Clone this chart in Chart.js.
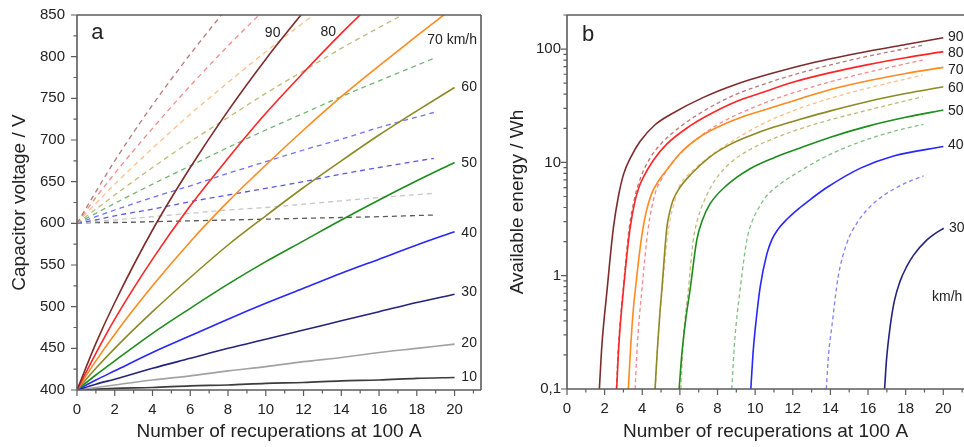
<!DOCTYPE html>
<html>
<head>
<meta charset="utf-8">
<title>Capacitor recuperation</title>
<script src="https://cdn.jsdelivr.net/npm/chart.js@4/dist/chart.umd.min.js"></script>
<style>
  body { margin: 0; background: #fff; }
  #wrap { position: relative; width: 964px; height: 447px; overflow: hidden; }
  canvas { position: absolute; top: 0; }
</style>
</head>
<body>
<div id="wrap">
  <canvas id="chartA" width="482" height="447" style="left:0"></canvas>
  <canvas id="chartB" width="482" height="447" style="left:482px"></canvas>
</div>
<script>
// ---- panel a: capacitor voltage vs. number of recuperations ----
var nSolid = [0, 1, 2, 4, 6, 8, 10, 12, 14, 16, 18, 20]
var nDashed = [0, 1, 2, 4, 6, 8, 10, 12, 14, 16, 18.9]

// charging from 400 V (solid)
var volt90 = [400, 456, 505, 592, 667, 735, 797, 854]
var volt80 = [400, 444, 485, 557, 621, 678, 732, 781, 828, 872]
var volt70 = [400, 435, 467, 525, 578, 626, 670, 712, 752, 789, 825, 860]
var volt60 = [400, 426, 450, 494, 535, 574, 609, 643, 675, 706, 735, 763]
var volt50 = [400, 418, 435, 468, 498, 527, 554, 579, 604, 628, 651, 673]
var volt40 = [400, 412, 423, 445, 465, 485, 504, 522, 540, 557, 574, 590]
var volt30 = [400, 407, 413, 426, 438, 450, 461, 472, 483, 494, 505, 515]
var volt20 = [400, 403, 406, 412, 417, 423, 428, 434, 439, 445, 450, 455]
var volt10 = [400, 401, 402, 403, 405, 406, 408, 409, 411, 412, 414, 415]

// charging from 600 V (dashed)
var voltDash90 = [600, 638, 675, 742, 803, 860]
var voltDash80 = [600, 631, 660, 714, 765, 813, 858]
var voltDash70 = [600, 624, 647, 690, 731, 769, 806, 841, 875]
var voltDash60 = [600, 617, 634, 667, 698, 727, 756, 783, 810, 835, 870]
var voltDash50 = [600, 612, 624, 647, 669, 691, 712, 732, 752, 771, 798]
var voltDash40 = [600, 608, 616, 631, 645, 660, 674, 688, 701, 715, 733]
var voltDash30 = [600, 604, 609, 617, 626, 634, 642, 650, 659, 667, 678]
var voltDash20 = [600, 602, 604, 608, 612, 616, 619, 623, 627, 631, 636]
var voltDash10 = [600, 601, 601, 602, 603, 604, 605, 606, 607, 608, 610]

// ---- panel b: available energy (Wh), [recuperations, energy] ----
var energy90 = [[1.72,0.1],[1.86,0.25],[2.13,0.75],[2.46,2.6],[2.73,5.0],[3.0,7.8],[3.4,11.2],[3.88,15.3],[4.68,21.5],[5.5,26.5],[7.25,37.5],[9,49],[10.8,60.5],[13,75.5],[15.6,93],[18,110],[20,126]]
var energy80 = [[2.64,0.1],[2.76,0.25],[3.0,0.75],[3.35,2.6],[3.62,4.6],[3.85,6.2],[4.06,7.4],[4.6,10.5],[5.3,14.5],[6.54,21],[7.25,24.8],[9,34.5],[10.3,41],[12,51],[14,62],[16,73],[18,84],[20,95]]
var energy70 = [[3.26,0.1],[3.36,0.2],[3.5,0.45],[3.7,0.95],[3.95,2.1],[4.2,3.6],[4.5,5.3],[4.9,7.0],[5.4,9.0],[6.0,12],[7.0,16.5],[7.96,20.3],[9.2,24.8],[10.62,29.5],[12.39,36.5],[14,44],[16,52.5],[18,61],[20,69]]
var energy60 = [[4.68,0.1],[4.8,0.22],[4.95,0.5],[5.04,0.75],[5.3,2.6],[5.45,3.6],[5.65,4.7],[6.0,6.0],[6.6,7.9],[7.6,11.2],[8.6,14.2],[9.73,17.2],[11,20.5],[12.39,24],[14,28.5],[16,34.5],[18,40.5],[20,46.5]]
var energy50 = [[5.96,0.1],[6.1,0.2],[6.3,0.4],[6.54,0.75],[6.9,2.07],[7.2,3.1],[7.6,4.3],[8.5,6.3],[9.73,8.8],[11,11],[12.39,13.4],[14,16.7],[16,20.9],[18,25],[20,29]]
var energy40 = [[9.77,0.1],[9.9,0.22],[10.05,0.4],[10.27,0.8],[10.62,1.55],[10.9,2.1],[11.2,2.55],[11.69,3.15],[12.39,4.0],[13,4.8],[13.81,6.0],[15.6,8.9],[17.36,11.4],[20,13.8]]
var energy30 = [[16.88,0.1],[16.98,0.18],[17.18,0.36],[17.4,0.6],[17.71,0.9],[18.05,1.2],[18.42,1.52],[19.13,2.07],[19.6,2.38],[20.02,2.62]]

var energyDash90 = [[2.62,0.1],[2.74,0.25],[2.98,0.75],[3.3,2.6],[3.6,4.9],[3.95,7.6],[4.4,10.8],[5,14.6],[6,20.5],[7.5,30],[9,40],[10.3,48],[12,59],[14,72.5],[16,86.5],[18.9,108]]
var energyDash80 = [[3.62,0.1],[3.74,0.25],[3.98,0.75],[4.3,2.5],[4.68,5.3],[5.0,7.0],[5.5,9.5],[6.5,14.2],[8,21.5],[10.3,32.5],[12,41],[14,51.5],[16,62.5],[18.9,80]]
var energyDash70 = [[4.7,0.1],[4.82,0.25],[5.06,0.75],[5.4,2.6],[5.75,4.7],[6.0,6.3],[6.6,8.2],[7.3,10.4],[8,12.7],[9,16.2],[10.3,21.5],[12,28.5],[14,36.8],[16,45.3],[18.9,59]]
var energyDash60 = [[6.05,0.1],[6.2,0.3],[6.45,0.75],[6.7,2.0],[7.0,3.4],[7.3,4.6],[7.7,6.3],[8.5,9.3],[9.73,13],[11,16.3],[12.39,19.8],[14,23.8],[16,29],[18.9,38]]
var energyDash50 = [[8.76,0.1],[8.9,0.25],[9.2,0.75],[9.56,2.07],[9.8,2.9],[10.09,3.7],[10.5,4.8],[10.97,5.8],[12.39,8.4],[13.81,11.4],[15.6,15.2],[17.36,18.8],[18.95,21.7]]
var energyDash40 = [[13.78,0.1],[13.9,0.2],[14.08,0.36],[14.4,0.95],[14.88,1.95],[15.4,2.9],[15.94,3.8],[16.6,4.8],[17.36,5.8],[18.2,6.8],[18.95,7.6]]

// axis ticks
var xMajor = [0, 2, 4, 6, 8, 10, 12, 14, 16, 18, 20]
var xMinor = [1, 3, 5, 7, 9, 11, 13, 15, 17, 19, 21]
var voltMajor = [400, 450, 500, 550, 600, 650, 700, 750, 800, 850]
var voltMinor = [425, 475, 525, 575, 625, 675, 725, 775, 825]
var energyMajor = [0.1, 1, 10, 100]
var energyMinor = [0.2, 0.3, 0.4, 0.5, 0.6, 0.7, 0.8, 0.9, 2, 3, 4, 5, 6, 7, 8, 9, 20, 30, 40, 50, 60, 70, 80, 90, 200]

// curve labels: text, x, y (data units), font size
var labelsA = [
  ['a', 0.75, 829, 22],
  ['90', 9.95, 828, 14], ['80', 12.9, 830, 14], ['70 km/h', 18.55, 820, 14],
  ['60', 20.36, 764, 14], ['50', 20.36, 672, 14], ['40', 20.36, 588, 14],
  ['30', 20.36, 518, 14], ['20', 20.36, 456, 14], ['10', 20.36, 416, 14]
]
var labelsB = [
  ['b', 0.8, 133, 22],
  ['90', 20.25, 127, 14], ['80', 20.25, 92, 14], ['70', 20.25, 65, 14],
  ['60', 20.25, 45, 14], ['50', 20.25, 28.4, 14], ['40', 20.25, 14.2, 14],
  ['30', 20.3, 2.64, 14], ['km/h', 19.4, 0.65, 14]
]

var FONT = 'Liberation Sans, Arial, sans-serif'
var INK = '#222'

function zipLine(xs, ys) {
  return ys.map(function(v, i) { return {x: xs[i], y: v} })
}
function pairLine(pairs) {
  return pairs.map(function(p) { return {x: p[0], y: p[1]} })
}
function solid(data, color) {
  return {data: data, borderColor: color, borderWidth: 1.6, pointRadius: 0,
          cubicInterpolationMode: 'monotone', fill: false, order: 0}
}
function dashed(data, color, dash) {
  return {data: data, borderColor: color, borderWidth: 1.3, borderDash: dash, pointRadius: 0,
          cubicInterpolationMode: 'monotone', fill: false, order: 1}
}

// frame, tick marks and in-plot labels
var decorPlugin = {
  id: 'decor',
  afterDatasetsDraw: function(chart, args, opts) {
    var ctx = chart.ctx
    var area = chart.chartArea
    var sx = chart.scales.x, sy = chart.scales.y
    ctx.save()
    ctx.strokeStyle = '#5c5c5c'
    ctx.lineWidth = 1.6
    ctx.beginPath()
    ctx.moveTo(area.left, area.top); ctx.lineTo(area.right, area.top)
    ctx.moveTo(area.left, area.top); ctx.lineTo(area.left, area.bottom)
    ctx.moveTo(area.left, area.bottom); ctx.lineTo(area.right, area.bottom)
    if (opts.rightEdge) { ctx.moveTo(area.right, area.top); ctx.lineTo(area.right, area.bottom) }
    ctx.stroke()

    ctx.lineWidth = 1.2
    ctx.beginPath()
    opts.xMajor.forEach(function(v) { var p = sx.getPixelForValue(v); ctx.moveTo(p, area.bottom); ctx.lineTo(p, area.bottom + 6) })
    opts.xMinor.forEach(function(v) { var p = sx.getPixelForValue(v); ctx.moveTo(p, area.bottom); ctx.lineTo(p, area.bottom + 3.5) })
    opts.yMajor.forEach(function(v) { var p = sy.getPixelForValue(v); ctx.moveTo(area.left, p); ctx.lineTo(area.left - 6, p) })
    opts.yMinor.forEach(function(v) { var p = sy.getPixelForValue(v); ctx.moveTo(area.left, p); ctx.lineTo(area.left - 3.5, p) })
    ctx.stroke()

    ctx.fillStyle = INK
    ctx.textAlign = 'left'
    ctx.textBaseline = 'middle'
    opts.labels.forEach(function(l) {
      ctx.font = l[3] + 'px ' + FONT
      ctx.fillText(l[0], sx.getPixelForValue(l[1]), sy.getPixelForValue(l[2]))
    })
    ctx.restore()
  }
}

function xAxis(max, pad) {
  return {
    type: 'linear', min: 0, max: max,
    afterBuildTicks: function(s) { s.ticks = xMajor.map(function(v) { return {value: v} }) },
    afterFit: function(s) { s.height = pad },
    grid: {display: false, drawTicks: false},
    border: {display: false},
    ticks: {padding: 11, color: INK, font: {family: FONT, size: 15}, maxRotation: 0, autoSkip: false},
    title: {display: true, text: 'Number of recuperations at 100 A', color: INK,
            font: {family: FONT, size: 19}, padding: {top: 0, bottom: 4}}
  }
}

// invisible tick marks keep the label gap without adding to the top padding
var hiddenTicks = {display: true, drawOnChartArea: false, drawTicks: true, tickLength: 7,
                   tickColor: 'rgba(0,0,0,0)'}

var baseOptions = function() {
  return {
    responsive: false,
    animation: false,
    events: [],
    plugins: {legend: {display: false}, tooltip: {enabled: false}}
  }
}

// panel a
var optsA = baseOptions()
optsA.layout = {padding: {top: 15, right: 1, left: 0, bottom: 0}}
optsA.scales = {
  x: xAxis(21.4, 57),
  y: {
    type: 'linear', min: 400, max: 850,
    afterBuildTicks: function(s) { s.ticks = voltMajor.map(function(v) { return {value: v} }) },
    afterFit: function(s) { s.width = 77 },
    grid: hiddenTicks,
    border: {display: false},
    ticks: {padding: 5, color: INK, font: {family: FONT, size: 15}},
    title: {display: true, text: 'Capacitor voltage / V', color: INK,
            font: {family: FONT, size: 19}, padding: {top: 8.5, bottom: 0}}
  }
}
optsA.plugins.decor = {rightEdge: true, xMajor: xMajor, xMinor: xMinor,
                       yMajor: voltMajor, yMinor: voltMinor, labels: labelsA}

new Chart(document.getElementById('chartA'), {
  type: 'line',
  data: {datasets: [
    solid(zipLine(nSolid, volt90), '#7d2c2c'),
    solid(zipLine(nSolid, volt80), '#ff2424'),
    solid(zipLine(nSolid, volt70), '#ff8a1e'),
    solid(zipLine(nSolid, volt60), '#8c8a24'),
    solid(zipLine(nSolid, volt50), '#1d8c1d'),
    solid(zipLine(nSolid, volt40), '#2626ff'),
    solid(zipLine(nSolid, volt30), '#23237e'),
    solid(zipLine(nSolid, volt20), '#a2a2a2'),
    solid(zipLine(nSolid, volt10), '#3c3c3c'),
    dashed(zipLine(nDashed, voltDash90), '#b87878', [5, 4]),
    dashed(zipLine(nDashed, voltDash80), '#f48a8a', [5, 4]),
    dashed(zipLine(nDashed, voltDash70), '#ffbf86', [5, 4]),
    dashed(zipLine(nDashed, voltDash60), '#bdbb78', [5, 4]),
    dashed(zipLine(nDashed, voltDash50), '#6fb56f', [5, 4]),
    dashed(zipLine(nDashed, voltDash40), '#7070ff', [5, 4]),
    dashed(zipLine(nDashed, voltDash30), '#5a5ad8', [5, 4]),
    dashed(zipLine(nDashed, voltDash20), '#c6c6c6', [5, 4]),
    dashed(zipLine(nDashed, voltDash10), '#5a5a5a', [5, 4])
  ]},
  options: optsA,
  plugins: [decorPlugin]
})

// panel b
var optsB = baseOptions()
optsB.layout = {padding: {top: 15, right: 0, left: 0, bottom: 0}}
optsB.scales = {
  x: xAxis(21.1, 58),
  y: {
    type: 'logarithmic', min: 0.1, max: 200,
    afterBuildTicks: function(s) { s.ticks = energyMajor.map(function(v) { return {value: v} }) },
    afterFit: function(s) { s.width = 85 },
    grid: {display: false, drawTicks: false},
    border: {display: false},
    ticks: {padding: 6, color: INK, font: {family: FONT, size: 15},
            callback: function(v) { return v < 1 ? '0,1' : String(v) }},
    title: {display: true, text: 'Available energy / Wh', color: INK,
            font: {family: FONT, size: 19}, padding: {top: 24.5, bottom: 0}}
  }
}
optsB.plugins.decor = {rightEdge: false, xMajor: xMajor, xMinor: xMinor,
                       yMajor: energyMajor, yMinor: energyMinor, labels: labelsB}

new Chart(document.getElementById('chartB'), {
  type: 'line',
  data: {datasets: [
    solid(pairLine(energy90), '#7d2c2c'),
    solid(pairLine(energy80), '#ff2424'),
    solid(pairLine(energy70), '#ff8a1e'),
    solid(pairLine(energy60), '#8c8a24'),
    solid(pairLine(energy50), '#1d8c1d'),
    solid(pairLine(energy40), '#2626ff'),
    solid(pairLine(energy30), '#23237e'),
    dashed(pairLine(energyDash90), '#b87878', [4, 3]),
    dashed(pairLine(energyDash80), '#f48a8a', [4, 3]),
    dashed(pairLine(energyDash70), '#ffbf86', [4, 3]),
    dashed(pairLine(energyDash60), '#bdbb78', [4, 3]),
    dashed(pairLine(energyDash50), '#7fc07f', [4, 3]),
    dashed(pairLine(energyDash40), '#8080ff', [4, 3])
  ]},
  options: optsB,
  plugins: [decorPlugin]
})
</script>
</body>
</html>
